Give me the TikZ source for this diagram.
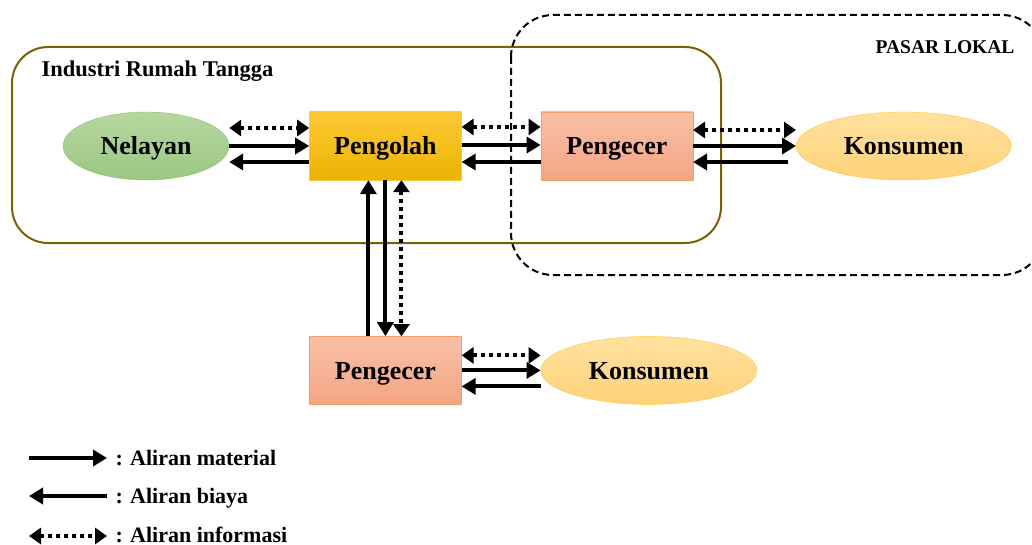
\documentclass[tikz,border=0pt]{standalone}
\usepackage{fontspec}
\setmainfont{Liberation Serif}
\usetikzlibrary{arrows.meta,positioning,shapes.geometric}

\definecolor{boxbrown}{HTML}{7F6000}
\definecolor{greentop}{HTML}{B6D7A0}
\definecolor{greenbot}{HTML}{9CC782}
\definecolor{greenline}{HTML}{8CC06E}
\definecolor{goldtop}{HTML}{FFC935}
\definecolor{goldbot}{HTML}{E9B400}
\definecolor{salmontop}{HTML}{F8C0A6}
\definecolor{salmonbot}{HTML}{F4A583}
\definecolor{salmonline}{HTML}{F4A070}
\definecolor{peachtop}{HTML}{FFE19E}
\definecolor{peachbot}{HTML}{FFD27A}
\definecolor{peachline}{HTML}{FFC83C}

\begin{document}
\begin{tikzpicture}
  [x=1pt, y=1pt, node distance=80pt,
  label/.style={font=\bfseries\fontsize{26}{28}\selectfont, text height=18pt, text depth=0pt},
  actor/.style={ellipse, label, inner sep=0pt, minimum height=68pt},
  stage/.style={rectangle, label, inner sep=0pt, minimum width=152pt, minimum height=68pt},
  fisher/.style={actor, draw=greenline, top color=greentop, bottom color=greenbot, minimum width=166pt},
  processor/.style={stage, draw=goldtop, top color=goldtop, bottom color=goldbot},
  retailer/.style={stage, draw=salmonline, top color=salmontop, bottom color=salmonbot},
  consumer/.style={actor, draw=peachline, top color=peachtop, bottom color=peachbot, minimum width=215pt},
  flow/.style={line width=4pt, -{Triangle[length=14pt,width=16pt]}},
  info/.style={line width=4pt, dash pattern=on 4pt off 4pt,
    {Triangle[length=12pt,width=16pt]}-{Triangle[length=12pt,width=16pt]}},
  groupname/.style={font=\bfseries\fontsize{22.5}{24}\selectfont},
  legendtext/.style={anchor=base west, font=\bfseries\fontsize{22}{24}\selectfont}]

  \useasboundingbox (0,0) rectangle (1032,-545);

  % kelompok
  \draw[boxbrown, line width=2pt, rounded corners=36pt] (12,-47) rectangle (721,-243);
  \node[groupname, anchor=base west] (irt) at (38,-77) {Industri Rumah Tangga};
  \draw[dash pattern=on 7pt off 4pt, line width=2pt, rounded corners=42pt] (511,-15) rectangle (1044,-275);
  \node[groupname, font=\bfseries\fontsize{19.5}{21}\selectfont, anchor=base east] (pasar) at (1018,-54) {PASAR LOKAL};

  % pelaku
  \node[fisher] (nelayan) at (146,-146) {Nelayan};
  \node[processor] (pengolah) [right=80pt of nelayan] {Pengolah};
  \node[retailer] (pengecer) [right=79pt of pengolah] {Pengecer};
  \node[consumer] (konsumen) [right=103pt of pengecer] {Konsumen};
  \node[retailer] (pengecer2) [below=156pt of pengolah] {Pengecer};
  \node[consumer, minimum width=216pt] (konsumen2) [right=79pt of pengecer2] {Konsumen};

  % aliran
  \draw[info] ([yshift=18pt]nelayan.east) -- ([yshift=18pt]nelayan.east -| pengolah.west);
  \draw[flow] (nelayan.east) -- (pengolah.west);
  \draw[flow] ([yshift=-16pt]pengolah.west) -- ([yshift=-16pt]pengolah.west -| nelayan.east);

  \draw[info] ([yshift=19pt]pengolah.east) -- ([yshift=19pt]pengecer.west);
  \draw[flow] ([yshift=1pt]pengolah.east) -- ([yshift=1pt]pengecer.west);
  \draw[flow] ([yshift=-16pt]pengecer.west) -- ([yshift=-16pt]pengolah.east);

  \draw[info] ([yshift=16pt]pengecer.east) -- ([yshift=16pt]pengecer.east -| konsumen.west);
  \draw[flow] (pengecer.east) -- (konsumen.west);
  \draw[flow] ([xshift=-8pt,yshift=-16pt]pengecer.east -| konsumen.west) -- ([yshift=-16pt]pengecer.east);

  \draw[flow] ([xshift=-17pt]pengecer2.north) -- ([xshift=-17pt]pengolah.south);
  \draw[flow] (pengolah.south) -- (pengecer2.north);
  \draw[info] ([xshift=16pt]pengolah.south) -- ([xshift=16pt]pengecer2.north);

  \draw[info] ([yshift=15pt]pengecer2.east) -- ([yshift=15pt]pengecer2.east -| konsumen2.west);
  \draw[flow] (pengecer2.east) -- (konsumen2.west);
  \draw[flow] ([yshift=-16pt]pengecer2.east -| konsumen2.west) -- ([yshift=-16pt]pengecer2.east);

  % keterangan
  \coordinate (m1) at (29,-458);
  \coordinate (m2) at (107,-458);
  \coordinate (b1) at (29,-496);
  \coordinate (b2) at (107,-496);
  \coordinate (i1) at (29,-536);
  \coordinate (i2) at (107,-536);
  \draw[flow] (m1) -- (m2);
  \draw[flow] (b2) -- (b1);
  \draw[info] (i1) -- (i2);
  \node[legendtext] (lm) at (112,-465) {: Aliran material};
  \node[legendtext] (lb) at (112,-503) {: Aliran biaya};
  \node[legendtext] (li) at (112,-542) {: Aliran informasi};
\end{tikzpicture}
\end{document}
